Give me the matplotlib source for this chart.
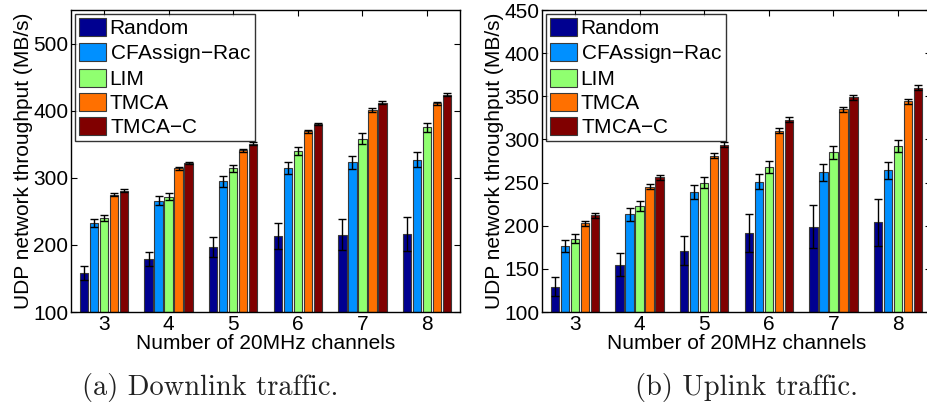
import matplotlib
matplotlib.use('Agg')
import matplotlib.pyplot as plt
import numpy as np

# Throughput vs number of channels, downlink (a) and uplink (b)

channels = [3, 4, 5, 6, 7, 8]
methods = ['Random', 'CFAssign$-$Rac', 'LIM', 'TMCA', 'TMCA$-$C']
colors = ['#000090', '#0090ff', '#90ff70', '#ff7000', '#800000']

down_random = [158, 179, 197, 213, 215, 216]
down_cfassign = [232, 266, 295, 314, 323, 327]
down_lim = [240, 272, 314, 340, 358, 375]
down_tmca = [275, 314, 341, 369, 401, 411]
down_tmcac = [281, 322, 351, 380, 412, 424]

down_random_err = [10, 11, 15, 19, 23, 25]
down_cfassign_err = [6, 7, 8, 9, 10, 11]
down_lim_err = [4, 5, 5, 6, 8, 7]
down_tmca_err = [2, 2, 2, 2, 2.5, 2]
down_tmcac_err = [2, 2, 2, 2, 2, 2]

up_random = [129, 155, 171, 192, 199, 204]
up_cfassign = [176, 213, 239, 251, 262, 264]
up_lim = [185, 223, 250, 268, 285, 292]
up_tmca = [203, 245, 281, 310, 335, 344]
up_tmcac = [212, 256, 294, 323, 349, 360]

up_random_err = [11, 13, 17, 22, 25, 27]
up_cfassign_err = [7, 8, 8, 9, 10, 10]
up_lim_err = [5, 6, 6, 7, 7.5, 7]
up_tmca_err = [3, 3, 3, 3, 3, 3]
up_tmcac_err = [3, 3, 3, 3, 3, 3]

plt.rcParams['font.family'] = ['Liberation Sans', 'DejaVu Sans']
plt.rcParams['mathtext.default'] = 'regular'

W, H = 928, 407
fig = plt.figure(figsize=(W / 100, H / 100), dpi=100)


def draw(rect, series, errs, ylim, yticks, caption, cap_x):
    ax = fig.add_axes([rect[0] / W, (H - rect[3]) / H, (rect[2] - rect[0]) / W, (rect[3] - rect[1]) / H])
    x = np.array(channels, dtype=float)
    step = 0.155
    width = 0.13
    for i in range(5):
        xi = x + (i - 2) * step
        ax.bar(xi, np.array(series[i]) - ylim[0], width, bottom=ylim[0], color=colors[i],
               edgecolor='#3a3a3a', linewidth=0.8, label=methods[i], zorder=2)
        ax.errorbar(xi, series[i], yerr=errs[i], fmt='none', ecolor='black',
                    elinewidth=1, capsize=3, capthick=1, zorder=3)
    ax.set_xlim(2.49, 8.51)
    ax.set_ylim(*ylim)
    ax.set_yticks(yticks)
    ax.set_xticks(channels)
    ax.tick_params(direction='in', top=True, right=True, length=4, labelsize=15, pad=2)
    ax.set_xlabel('Number of 20MHz channels', fontsize=15, labelpad=0)
    ax.set_ylabel('UDP network throughput (MB/s)', fontsize=15, labelpad=0)
    leg = ax.legend(loc='upper left', fontsize=15, frameon=True, fancybox=False,
                    borderpad=0.2, labelspacing=0.18, handlelength=1.3, handleheight=0.95,
                    handletextpad=0.15, borderaxespad=0.2)
    leg.get_frame().set_edgecolor('black')
    leg.get_frame().set_linewidth(1.0)
    for s in ax.spines.values():
        s.set_linewidth(1.0)
    fig.text(cap_x / W, 1 - 388 / H, caption, fontsize=20.5, family='cmr10',
             ha='center', va='center', color='#222222')
    return ax


draw((71, 10, 460, 312),
     [down_random, down_cfassign, down_lim, down_tmca, down_tmcac],
     [down_random_err, down_cfassign_err, down_lim_err, down_tmca_err, down_tmcac_err],
     (100, 550), [100, 200, 300, 400, 500], '(a) Downlink traffic.', 210)

draw((542, 10, 931, 312),
     [up_random, up_cfassign, up_lim, up_tmca, up_tmcac],
     [up_random_err, up_cfassign_err, up_lim_err, up_tmca_err, up_tmcac_err],
     (100, 450), [100, 150, 200, 250, 300, 350, 400, 450], '(b) Uplink traffic.', 747)

fig.savefig('out.png', dpi=100, facecolor='white')
